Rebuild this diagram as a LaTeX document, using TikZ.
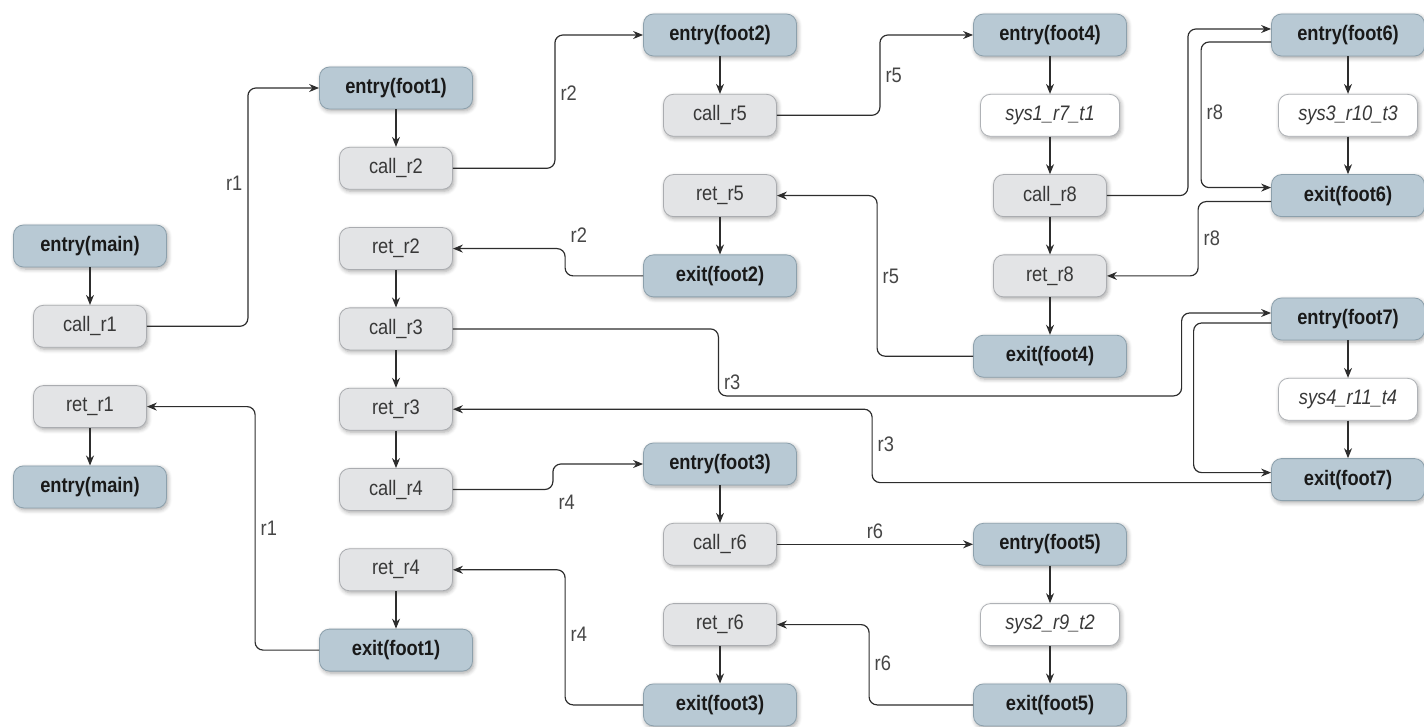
\documentclass[tikz,border=0pt]{standalone}
\usepackage{fontspec}
\setmainfont{Liberation Sans}[FakeStretch=0.87]
\usetikzlibrary{arrows.meta, positioning, shadows.blur}

\definecolor{fnfill}{RGB}{184,201,212}
\definecolor{fnedge}{RGB}{140,160,172}
\definecolor{sitefill}{RGB}{227,228,230}
\definecolor{siteedge}{RGB}{170,172,176}
\definecolor{sysedge}{RGB}{175,178,182}
\definecolor{wire}{RGB}{45,45,45}
\definecolor{lbltext}{RGB}{70,70,70}

\begin{document}
\begin{tikzpicture}[
    x=0.5pt, y=-0.5pt,
    font=\fontsize{10.5pt}{12pt}\selectfont,
    node distance=40.15pt, on grid,
    base/.style={rectangle, rounded corners=5pt, minimum height=21pt, inner sep=2pt, line width=0.4pt,
        blur shadow={shadow xshift=0.7pt, shadow yshift=-1pt, shadow blur steps=5, shadow opacity=35}},
    fnbox/.style={base, draw=fnedge, fill=fnfill, minimum width=76.5pt, font=\fontsize{10.5pt}{12pt}\selectfont\bfseries, text=black!90},
    sitebox/.style={base, draw=siteedge, fill=sitefill, minimum width=56.5pt, text=black!78},
    sysbox/.style={base, draw=sysedge, fill=white, minimum width=69.5pt, font=\fontsize{10.5pt}{12pt}\selectfont\itshape, text=black!78},
    flow/.style={-{Stealth[length=5pt, width=4pt]}, line width=0.6pt, draw=wire},
    link/.style={-{Stealth[length=5pt, width=4pt]}, line width=0.6pt, draw=wire, rounded corners=4pt},
    lbl/.style={text=lbltext, inner sep=2.5pt}
]
\useasboundingbox (0,0) rectangle (1424,727);

% main
\node[fnbox] (entrymain) at (90,246) {entry(main)};
\node[sitebox, below=of entrymain] (callr1) {call\_r1};
\node[sitebox, below=of callr1] (retr1) {ret\_r1};
\node[fnbox, below=of retr1] (entrymainb) {entry(main)};

% foot1
\node[fnbox] (entryfoot1) at (396,88) {entry(foot1)};
\node[sitebox, below=of entryfoot1] (callr2) {call\_r2};
\node[sitebox, below=of callr2] (retr2) {ret\_r2};
\node[sitebox, below=of retr2] (callr3) {call\_r3};
\node[sitebox, below=of callr3] (retr3) {ret\_r3};
\node[sitebox, below=of retr3] (callr4) {call\_r4};
\node[sitebox, below=of callr4] (retr4) {ret\_r4};
\node[fnbox, below=of retr4] (exitfoot1) {exit(foot1)};

% foot2 and foot3
\node[fnbox] (entryfoot2) at (720,35) {entry(foot2)};
\node[sitebox, below=of entryfoot2] (callr5) {call\_r5};
\node[sitebox, below=of callr5] (retr5) {ret\_r5};
\node[fnbox, below=of retr5] (exitfoot2) {exit(foot2)};
\node[fnbox] (entryfoot3) at (720,464) {entry(foot3)};
\node[sitebox, below=of entryfoot3] (callr6) {call\_r6};
\node[sitebox, below=of callr6] (retr6) {ret\_r6};
\node[fnbox, below=of retr6] (exitfoot3) {exit(foot3)};

% foot4 and foot5
\node[fnbox] (entryfoot4) at (1050,35) {entry(foot4)};
\node[sysbox, below=of entryfoot4] (sys1) {sys1\_r7\_t1};
\node[sitebox, below=of sys1] (callr8) {call\_r8};
\node[sitebox, below=of callr8] (retr8) {ret\_r8};
\node[fnbox, below=of retr8] (exitfoot4) {exit(foot4)};
\node[fnbox, right=165pt of callr6] (entryfoot5) {entry(foot5)};
\node[sysbox, below=of entryfoot5] (sys2) {sys2\_r9\_t2};
\node[fnbox, below=of sys2] (exitfoot5) {exit(foot5)};

% foot6 and foot7
\node[fnbox] (entryfoot6) at (1348,35) {entry(foot6)};
\node[sysbox, below=of entryfoot6] (sys3) {sys3\_r10\_t3};
\node[fnbox, below=of sys3] (exitfoot6) {exit(foot6)};
\node[fnbox] (entryfoot7) at (1348,319) {entry(foot7)};
\node[sysbox, below=of entryfoot7] (sys4) {sys4\_r11\_t4};
\node[fnbox, below=of sys4] (exitfoot7) {exit(foot7)};

% flow inside each function
\draw[flow] (entrymain) -- (callr1);
\draw[flow] (retr1) -- (entrymainb);
\draw[flow] (entryfoot1) -- (callr2);
\draw[flow] (retr2) -- (callr3);
\draw[flow] (callr3) -- (retr3);
\draw[flow] (retr3) -- (callr4);
\draw[flow] (retr4) -- (exitfoot1);
\draw[flow] (entryfoot2) -- (callr5);
\draw[flow] (retr5) -- (exitfoot2);
\draw[flow] (entryfoot3) -- (callr6);
\draw[flow] (retr6) -- (exitfoot3);
\draw[flow] (entryfoot4) -- (sys1);
\draw[flow] (sys1) -- (callr8);
\draw[flow] (callr8) -- (retr8);
\draw[flow] (retr8) -- (exitfoot4);
\draw[flow] (entryfoot5) -- (sys2);
\draw[flow] (sys2) -- (exitfoot5);
\draw[flow] (entryfoot6) -- (sys3);
\draw[flow] (sys3) -- (exitfoot6);
\draw[flow] (entryfoot7) -- (sys4);
\draw[flow] (sys4) -- (exitfoot7);

% calls and returns
\draw[link] (callr1.east) -- ++(101,0) |- node[lbl, left, pos=0.3] {r1} (entryfoot1.west);
\draw[link] (exitfoot1.west) -- ++(-64,0) |- node[lbl, right, pos=0.25] {r1} (retr1.east);
\draw[link] (callr2.east) -- ++(102,0) |- node[lbl, right, pos=0.28] {r2} (entryfoot2.west);
\draw[link] (exitfoot2.west) -- ++(-78,0) |- node[lbl, above right, pos=0.5] {r2} (retr2.east);
\draw[link] (callr3.east) -| ++(265.5,67) node[lbl, right, pos=0.9] {r3} -| ([xshift=-44.75pt, yshift=3pt]entryfoot7.west) -- ([yshift=3pt]entryfoot7.west);
\draw[link] ([yshift=-1.5pt]exitfoot7.west) -- ++(-399,0) |- node[lbl, right, pos=0.26] {r3} (retr3.east);
\draw[link] (callr4.east) -- ++(100,0) |- node[lbl, below right, pos=0] {r4} (entryfoot3.west);
\draw[link] (exitfoot3.west) -- ++(-78,0) |- node[lbl, right, pos=0.26] {r4} (retr4.east);
\draw[link] (callr5.east) -- ++(103,0) |- node[lbl, right, pos=0.25] {r5} (entryfoot4.west);
\draw[link] (exitfoot4.west) -- ++(-96,0) |- node[lbl, right, pos=0.25] {r5} (retr5.east);
\draw[link] (callr6.east) -- node[lbl, above] {r6} (entryfoot5.west);
\draw[link] (exitfoot5.west) -- ++(-104,0) |- node[lbl, right, pos=0.26] {r6} (retr6.east);
\draw[link] (callr8.east) -- ++(81,0) |- ([yshift=3pt]entryfoot6.west);
\draw[link] ([yshift=-3.5pt]entryfoot6.west) -- ++(-70,0) |- node[lbl, right, pos=0.24] {r8} ([yshift=4pt]exitfoot6.west);
\draw[link] ([yshift=-3pt]exitfoot6.west) -- ++(-73,0) |- node[lbl, right, pos=0.25] {r8} (retr8.east);
\draw[link] ([yshift=-2pt]entryfoot7.west) -- ++(-77.5,0) |- ([yshift=3.5pt]exitfoot7.west);

\end{tikzpicture}
\end{document}
